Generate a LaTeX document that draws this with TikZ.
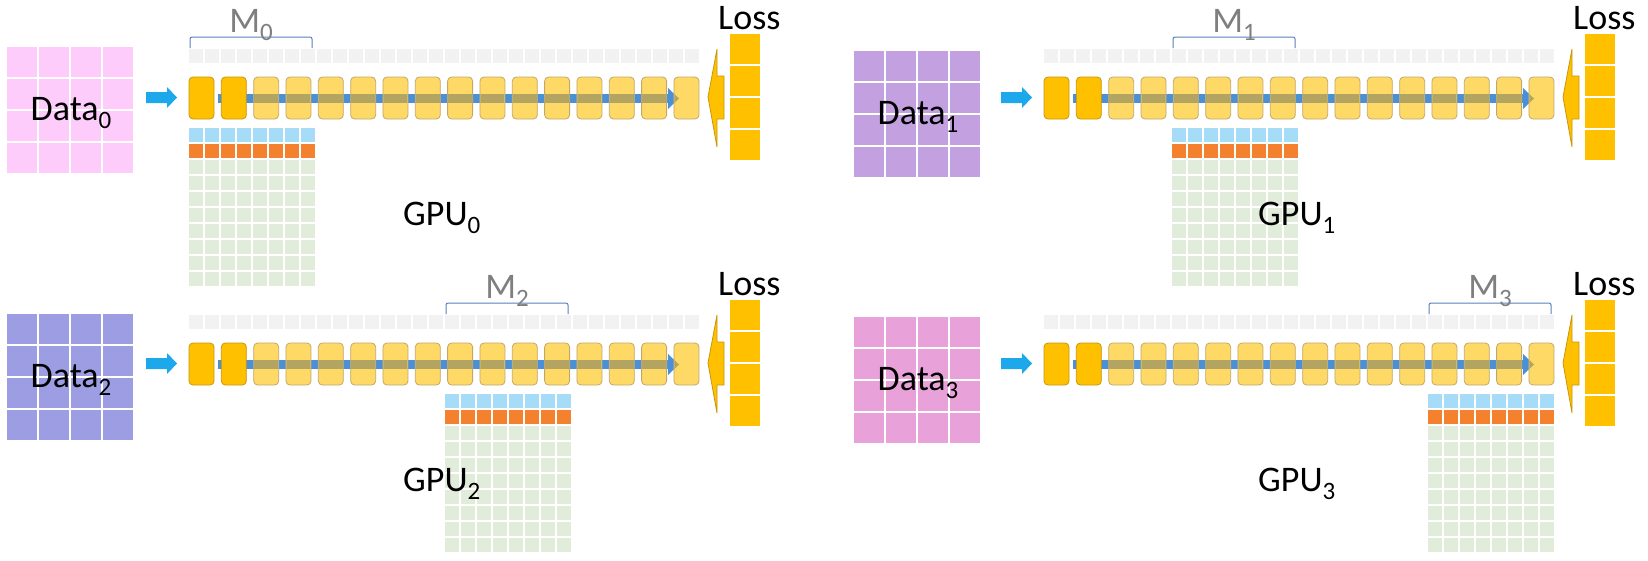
\documentclass[tikz,border=0pt]{standalone}
\usepackage{fontspec}
\setmainfont{Carlito}
\definecolor{dA}{HTML}{FDCCFA}
\definecolor{dB}{HTML}{C3A0E0}
\definecolor{dC}{HTML}{9D9DE4}
\definecolor{dD}{HTML}{E8A2D9}
\definecolor{orgbox}{HTML}{FFC000}
\definecolor{orgline}{HTML}{C8960C}
\definecolor{ylwbox}{HTML}{FFD966}
\definecolor{ylwline}{HTML}{BFA86E}
\definecolor{flowblue}{HTML}{4A90D9}
\definecolor{flowolive}{HTML}{B3A462}
\definecolor{lightblue}{HTML}{A6DCF8}
\definecolor{gradorg}{HTML}{F4812E}
\definecolor{paramgreen}{HTML}{E2ECDA}
\definecolor{graysq}{HTML}{F2F2F2}
\definecolor{inarrow}{HTML}{1CA8EB}
\definecolor{bracketc}{HTML}{5B80BE}
\definecolor{mgray}{HTML}{7F7F7F}
\newcommand{\mysub}[1]{\raisebox{-8pt}{\fontsize{25}{25}\selectfont #1}}
\tikzset{
  bigtext/.style={font=\fontsize{36}{40}\selectfont, inner sep=0pt, anchor=base},
  mlabel/.style={bigtext, text=mgray},
  layerorg/.style={fill=orgbox, draw=orgline, line width=0.8pt, rounded corners=4},
  layerylw/.style={fill=ylwbox, draw=ylwline, line width=0.8pt, rounded corners=4},
  bracketline/.style={draw=bracketc, line width=1pt, rounded corners=2},
  lossarrow/.style={fill=orgbox, draw=orgline, line width=0.8pt, line join=miter},
}
\begin{document}
\begin{tikzpicture}[x=1pt, y=-1pt]
\useasboundingbox (0,0) rectangle (1648,560);
\fill[white] (0,0) rectangle (1648,560);
\foreach \X/\Y/\k/\dc/\dx/\dy in {189/77/0/dA/7/47, 1044/77/1/dB/854/51, 189/343/2/dC/7/314, 1044/343/3/dD/854/317}{
  % data grid
  \foreach \r in {0,...,3}{
    \foreach \c in {0,...,3}{
      \fill[fill=\dc] ({\dx+\c*32},{\dy+\r*32}) rectangle +(30,30);
    }
  }
  \node[bigtext] (data\k) at ({\dx+64},{\dy+73}) {Data\mysub{\k}};
  \begin{scope}[shift={(\X,\Y)}]
    % input arrow
    \fill[inarrow] (-43,15) -- (-22,15) -- (-22,10) -- (-12,20.5) -- (-22,31) -- (-22,26) -- (-43,26) -- cycle;
    % gray parameter row
    \foreach \i in {0,...,31}{
      \fill[graysq] ({\i*16},-28) rectangle +(14,14);
    }
    % flow line
    \fill[flowblue] (29,17) rectangle (479,26);
    \fill[flowblue] (479,11) -- (490,21.5) -- (479,32) -- cycle;
    % layers
    \foreach \i in {0,...,15}{
      \ifnum\i<2
        \path[layerorg] ({\i*32.33},0) rectangle +(25,42);
      \else
        \path[layerylw] ({\i*32.33},0) rectangle +(25,42);
      \fi
    }
    \begin{scope}
      \clip \foreach \i in {2,...,15}{ ({\i*32.33+0.5},0.5) rectangle +(24,41) };
      \fill[flowolive] (29,17) rectangle (479,26);
      \fill[flowolive] (479,11) -- (490,21.5) -- (479,32) -- cycle;
    \end{scope}
    % sharded optimizer state grid
    \foreach \c in {0,...,7}{
      \fill[lightblue] ({128*\k+\c*16},51) rectangle +(14,14);
      \fill[gradorg] ({128*\k+\c*16},67) rectangle +(14,14);
      \foreach \r in {0,...,7}{
        \fill[paramgreen] ({128*\k+\c*16},{83+\r*16}) rectangle +(14,14);
      }
    }
    % bracket and M label
    \draw[bracketline] ({128*\k+1},-29) -- ({128*\k+1},-40) -- ({128*\k+123},-40) -- ({128*\k+123},-29);
    \node[mlabel] (m\k) at ({128*\k+62},-45) {M\mysub{\k}};
    % loss back arrow
    \path[lossarrow] (519,20) -- (528,-28) -- (528,-1) -- (535,-1) -- (535,42) -- (528,42) -- (528,70) -- cycle;
    % loss column
    \foreach \r in {0,...,3}{
      \fill[orgbox] (541,{-43+\r*32}) rectangle +(30,30);
    }
    \node[bigtext, anchor=base west] (loss\k) at (529,-48) {Loss};
    \node[bigtext, anchor=base west] (gpu\k) at (214,148) {GPU\mysub{\k}};
  \end{scope}
}
\end{tikzpicture}
\end{document}
